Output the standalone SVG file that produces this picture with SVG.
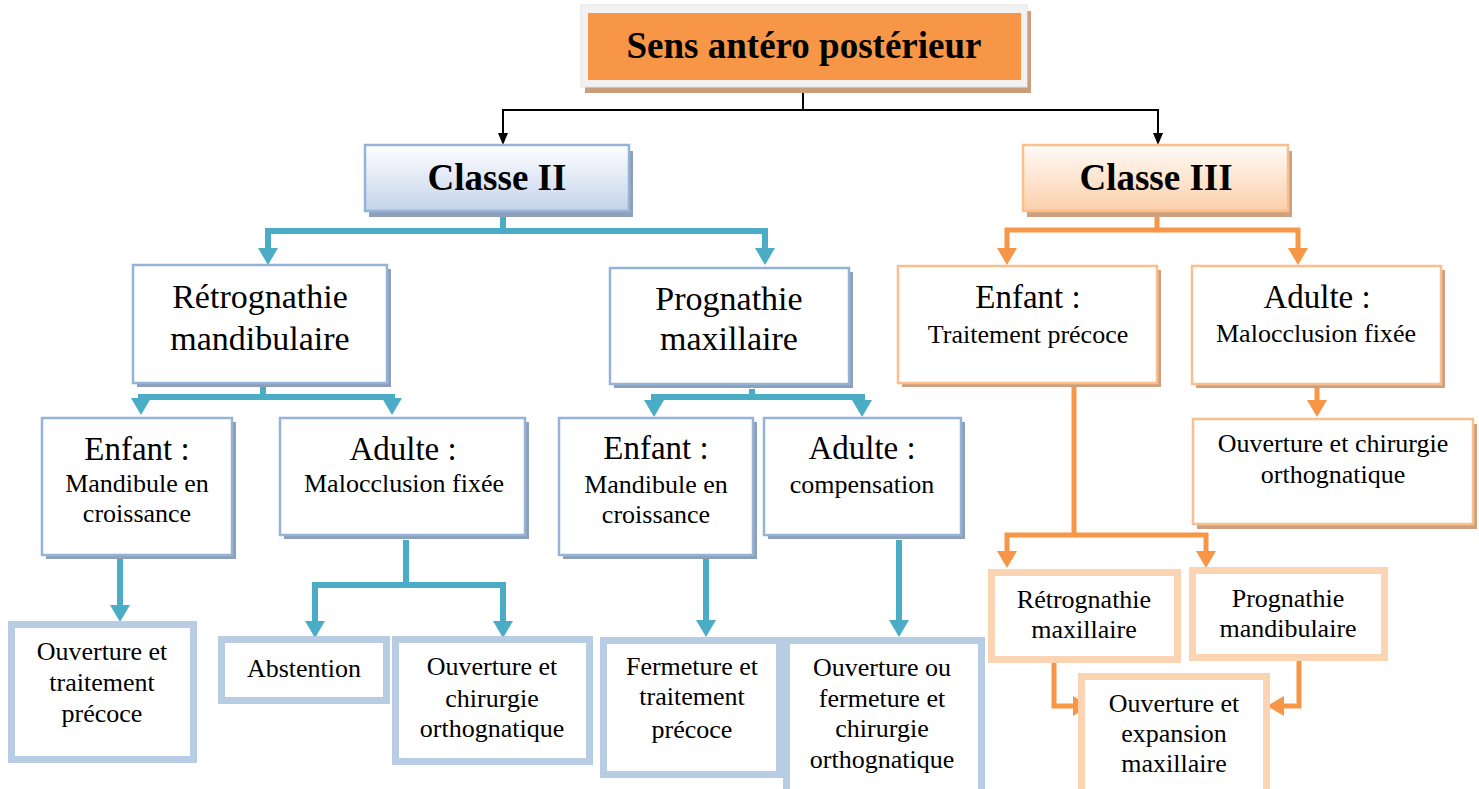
<svg xmlns="http://www.w3.org/2000/svg" width="1479" height="789" viewBox="0 0 1479 789">
<defs>
<linearGradient id="gBlue" x1="0" y1="0" x2="0" y2="1"><stop offset="0" stop-color="#ffffff"/><stop offset="1" stop-color="#c3d3eb"/></linearGradient>
<linearGradient id="gOrange" x1="0" y1="0" x2="0" y2="1"><stop offset="0" stop-color="#fffbf7"/><stop offset="1" stop-color="#fbcfaa"/></linearGradient>
<marker id="aTeal" viewBox="0 0 17 20" markerWidth="17" markerHeight="20" markerUnits="userSpaceOnUse" refX="0" refY="10" orient="auto"><path d="M0,0 L17,10 L0,20 Z" fill="#4bacc6"/></marker>
<marker id="aOrange" viewBox="0 0 17 20" markerWidth="17" markerHeight="20" markerUnits="userSpaceOnUse" refX="0" refY="10" orient="auto"><path d="M0,0 L17,10 L0,20 Z" fill="#f79646"/></marker>
<marker id="aBlack" viewBox="0 0 12 10" markerWidth="12" markerHeight="10" markerUnits="userSpaceOnUse" refX="0" refY="5" orient="auto"><path d="M0,0 L12,5 L0,10 Z" fill="#000"/></marker>
</defs>
<style>
text{font-family:"Liberation Serif","Times New Roman",serif;fill:#000;text-anchor:middle}
.title{font-weight:bold;font-size:37px}
.big{font-size:33px}
.big2{font-size:34px}
.sm{font-size:26px}
.shB{fill:#8e9fb8}
.shO{fill:#cfa07f}
.thinB{fill:#fff;stroke:#95b3d7;stroke-width:2.5}
.thinO{fill:#fff;stroke:#fabf8f;stroke-width:2.5}
.thickB{fill:#fff;stroke:#b8cce4;stroke-width:7}
.thickO{fill:#fff;stroke:#fbd4b4;stroke-width:7}
.cT{fill:none;stroke:#4bacc6;stroke-width:6;marker-end:url(#aTeal)}
.cO{fill:none;stroke:#f79646;stroke-width:5;marker-end:url(#aOrange)}
.cK{fill:none;stroke:#000;stroke-width:2;marker-end:url(#aBlack)}
</style>
<rect width="1479" height="789" fill="#fff"/>

<g id="connectors">
<path class="cK" d="M803,93 V110 H503 V133"/>
<path class="cK" d="M803,110 H1158 V133"/>
<path class="cT" d="M503,217 V231 H268 V248"/>
<path class="cT" d="M503,231 H765 V248"/>
<path class="cT" d="M263,386 V397 H141 V398"/>
<path class="cT" d="M263,397 H392 V398"/>
<path class="cT" d="M752,389 V397 H654 V400"/>
<path class="cT" d="M752,397 H862 V400"/>
<path class="cT" d="M120,559 V605"/>
<path class="cT" d="M406,540 V585 H315 V621"/>
<path class="cT" d="M406,585 H503 V621"/>
<path class="cT" d="M706,555 V620"/>
<path class="cT" d="M899,540 V620"/>
<path class="cO" d="M1157,217 V230 H1007 V248"/>
<path class="cO" d="M1157,230 H1298 V248"/>
<path class="cO" d="M1317,388 V400"/>
<path class="cO" d="M1074,383 V535 H1007 V551"/>
<path class="cO" d="M1074,535 H1206 V551"/>
<path class="cO" d="M1054,663 V706 H1073"/>
<path class="cO" d="M1299,661 V706 H1284"/>
</g>

<g id="n-root">
<rect x="585" y="11" width="446" height="82" fill="#c99e7c"/>
<rect x="581" y="5" width="446" height="82" fill="#f2f2f2" stroke="#e4e4e4" stroke-width="1"/>
<rect x="588" y="13" width="433" height="67" fill="#f79646"/>
<text class="title" x="804" y="58">Sens antéro postérieur</text>
</g>

<g id="n-classe2">
<rect class="shB" x="369" y="151" width="264" height="66"/>
<rect x="365" y="145" width="264" height="66" fill="url(#gBlue)" stroke="#95b3d7" stroke-width="2.5"/>
<text class="title" x="497" y="190">Classe II</text>
</g>

<g id="n-classe3">
<rect class="shO" x="1027" y="151" width="265" height="66"/>
<rect x="1023" y="145" width="265" height="66" fill="url(#gOrange)" stroke="#fabf8f" stroke-width="2.5"/>
<text class="title" x="1156" y="190">Classe III</text>
</g>

<g id="n-retro-mand">
<rect class="shB" x="137" y="269" width="254" height="118"/>
<rect class="thinB" x="133" y="265" width="254" height="118"/>
<text class="big2" x="260" y="308">Rétrognathie</text>
<text class="big2" x="260" y="350">mandibulaire</text>
</g>

<g id="n-progn-max">
<rect class="shB" x="614" y="272" width="239" height="116"/>
<rect class="thinB" x="610" y="268" width="239" height="116"/>
<text class="big2" x="729" y="310">Prognathie</text>
<text class="big2" x="729" y="350">maxillaire</text>
</g>

<g id="n-enfant1">
<rect class="shB" x="46" y="422" width="190" height="137"/>
<rect class="thinB" x="42" y="418" width="190" height="137"/>
<text class="big" x="137" y="460">Enfant :</text>
<text class="sm" x="137" y="492">Mandibule en</text>
<text class="sm" x="137" y="522">croissance</text>
</g>

<g id="n-adulte1">
<rect class="shB" x="284" y="422" width="245" height="117"/>
<rect class="thinB" x="280" y="418" width="245" height="117"/>
<text class="big" x="403" y="460">Adulte :</text>
<text class="sm" x="404" y="492">Malocclusion fixée</text>
</g>

<g id="n-enfant2">
<rect class="shB" x="563" y="422" width="194" height="137"/>
<rect class="thinB" x="559" y="418" width="194" height="137"/>
<text class="big" x="656" y="459">Enfant :</text>
<text class="sm" x="656" y="493">Mandibule en</text>
<text class="sm" x="656" y="523">croissance</text>
</g>

<g id="n-adulte2">
<rect class="shB" x="768" y="422" width="197" height="117"/>
<rect class="thinB" x="764" y="418" width="197" height="117"/>
<text class="big" x="862" y="459">Adulte :</text>
<text class="sm" x="862" y="493">compensation</text>
</g>

<g id="n-enfant3">
<rect class="shO" x="902" y="270" width="259" height="117"/>
<rect class="thinO" x="898" y="266" width="259" height="117"/>
<text class="big" x="1028" y="308">Enfant :</text>
<text class="sm" x="1028" y="343">Traitement précoce</text>
</g>

<g id="n-adulte3">
<rect class="shO" x="1196" y="270" width="249" height="118"/>
<rect class="thinO" x="1192" y="266" width="249" height="118"/>
<text class="big" x="1317" y="308">Adulte :</text>
<text class="sm" x="1316" y="342">Malocclusion fixée</text>
</g>

<g id="n-ouv-chir-r">
<rect class="shO" x="1197" y="424" width="280" height="105"/>
<rect class="thinO" x="1193" y="419" width="280" height="105"/>
<text class="sm" x="1333" y="452">Ouverture et chirurgie</text>
<text class="sm" x="1333" y="483">orthognatique</text>
</g>

<g id="n-ouv-trait">
<rect class="thickB" x="11.5" y="624.5" width="182" height="135"/>
<text class="sm" x="102" y="660">Ouverture et</text>
<text class="sm" x="102" y="691">traitement</text>
<text class="sm" x="102" y="722">précoce</text>
</g>

<g id="n-abstention">
<rect class="thickB" x="221.5" y="639.5" width="165" height="61"/>
<text class="sm" x="304" y="677">Abstention</text>
</g>

<g id="n-ouv-chir-l">
<rect class="thickB" x="395.5" y="639.5" width="194" height="122"/>
<text class="sm" x="492" y="675">Ouverture et</text>
<text class="sm" x="492" y="707">chirurgie</text>
<text class="sm" x="492" y="737">orthognatique</text>
</g>

<g id="n-fermeture">
<rect class="thickB" x="603.5" y="640.5" width="176" height="134"/>
<text class="sm" x="692" y="675">Fermeture et</text>
<text class="sm" x="692" y="705">traitement</text>
<text class="sm" x="692" y="738">précoce</text>
</g>

<g id="n-ouv-ferm">
<rect class="thickB" x="786.5" y="640.5" width="195" height="160"/>
<text class="sm" x="882" y="676">Ouverture ou</text>
<text class="sm" x="882" y="707">fermeture et</text>
<text class="sm" x="882" y="737">chirurgie</text>
<text class="sm" x="882" y="768">orthognatique</text>
</g>

<g id="n-retro-max">
<rect class="thickO" x="991.5" y="572.5" width="186" height="87"/>
<text class="sm" x="1084" y="608">Rétrognathie</text>
<text class="sm" x="1084" y="638">maxillaire</text>
</g>

<g id="n-progn-mand">
<rect class="thickO" x="1192.5" y="570.5" width="192" height="87"/>
<text class="sm" x="1288" y="607">Prognathie</text>
<text class="sm" x="1288" y="637">mandibulaire</text>
</g>

<g id="n-ouv-exp">
<rect class="thickO" x="1081.5" y="676.5" width="185" height="130"/>
<text class="sm" x="1174" y="712">Ouverture et</text>
<text class="sm" x="1174" y="742">expansion</text>
<text class="sm" x="1174" y="772">maxillaire</text>
</g>
</svg>
